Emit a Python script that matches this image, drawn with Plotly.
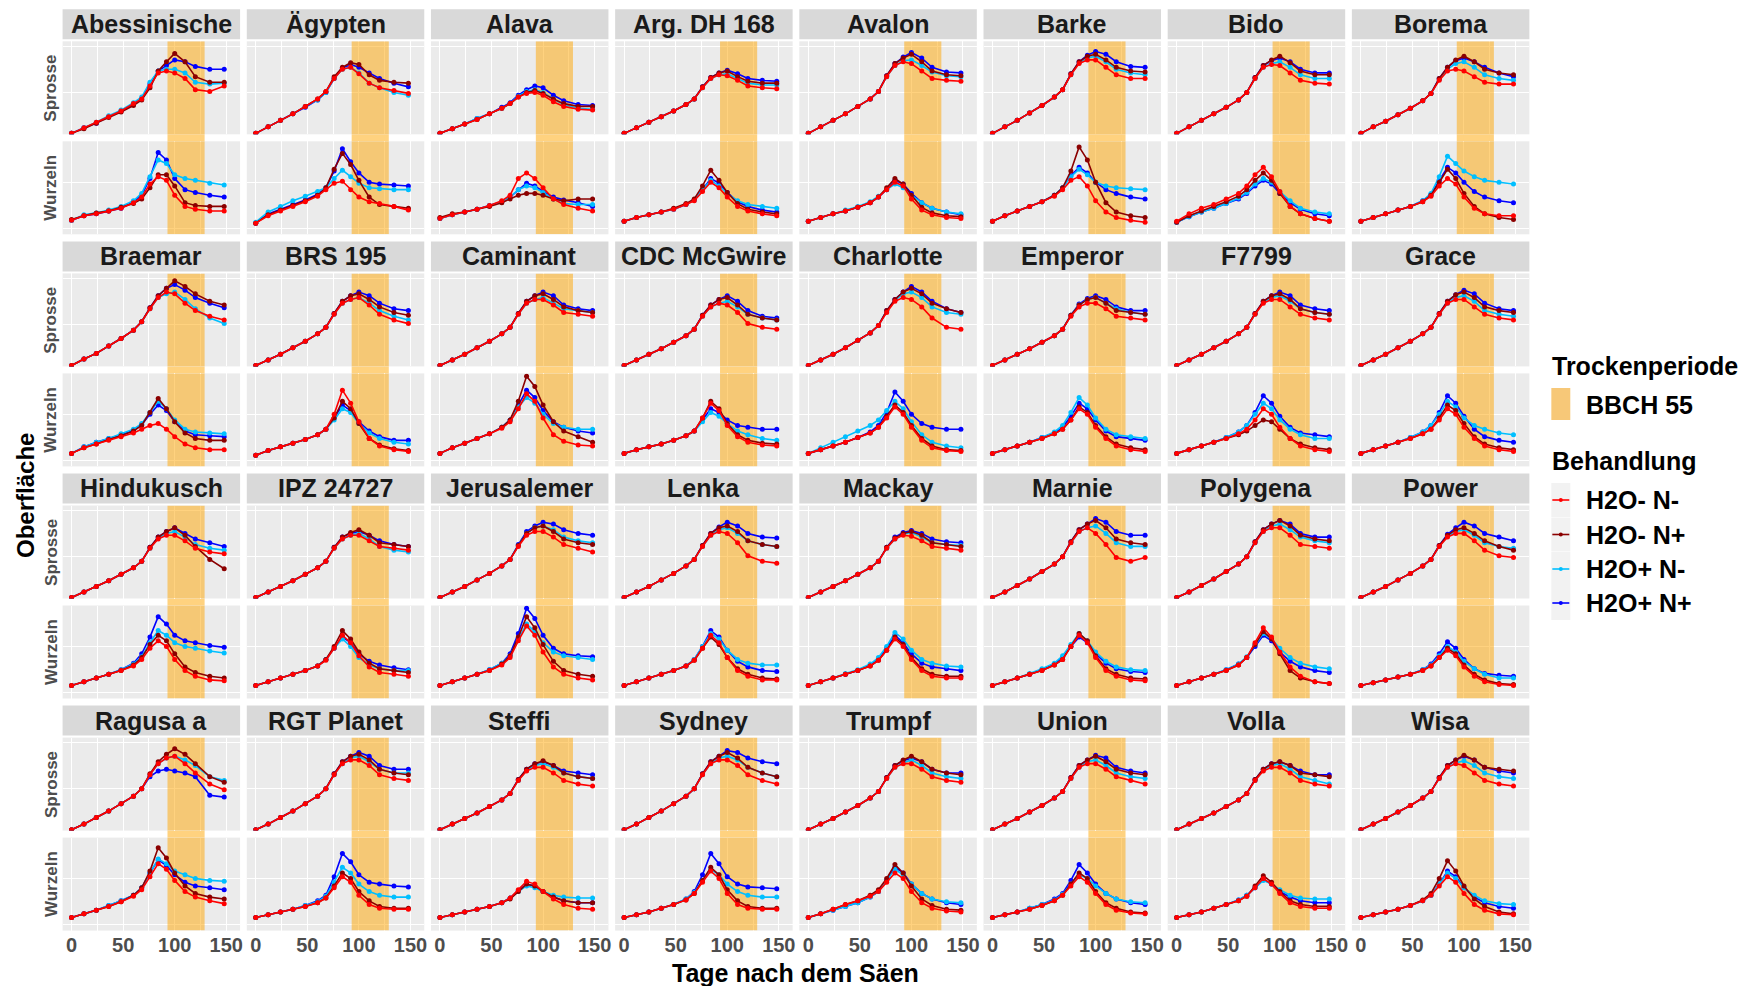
import plotly.graph_objects as go

# Measurement days (Tage nach dem Säen)
DAYS = [0, 12, 24, 36, 48, 60, 68, 76, 84, 92, 100, 110, 120, 134, 148]

TREATMENTS = ["H2O- N-", "H2O- N+", "H2O+ N-", "H2O+ N+"]
COLORS = ["#FF0000", "#8B0000", "#00BFFF", "#0000FF"]

# Drought period (BBCH 55), in days after sowing
BBCH55_START, BBCH55_END = 93, 129

GENOTYPES = [
    "Abessinische", "Ägypten", "Alava", "Arg. DH 168", "Avalon", "Barke", "Bido", "Borema",
    "Braemar", "BRS 195", "Caminant", "CDC McGwire", "Charlotte", "Emperor", "F7799", "Grace",
    "Hindukusch", "IPZ 24727", "Jerusalemer", "Lenka", "Mackay", "Marnie", "Polygena", "Power",
    "Ragusa a", "RGT Planet", "Steffi", "Sydney", "Trumpf", "Union", "Volla", "Wisa",
]

# Relative surface area, shoot (Sprosse); order of rows follows TREATMENTS
SPROSSE = {
    "Abessinische": [[1, 7, 13, 19, 25, 33, 38, 52, 66, 68, 66, 60, 48, 46, 52],
                     [1, 6, 12, 18, 24, 31, 37, 50, 68, 78, 87, 78, 62, 56, 56],
                     [1, 7, 13, 20, 26, 34, 40, 56, 68, 70, 70, 66, 56, 54, 55],
                     [1, 7, 12, 19, 25, 32, 38, 54, 68, 74, 80, 78, 73, 70, 70]],
    "Ägypten": [[1, 8, 15, 22, 30, 38, 46, 60, 70, 72, 65, 55, 50, 47, 44],
                [1, 8, 15, 22, 30, 38, 46, 62, 72, 77, 75, 64, 58, 56, 55],
                [1, 8, 15, 22, 30, 37, 45, 60, 70, 72, 66, 55, 50, 45, 42],
                [1, 8, 15, 22, 29, 37, 45, 60, 71, 75, 72, 66, 60, 55, 51]],
    "Alava": [[1, 6, 11, 16, 22, 28, 33, 40, 44, 45, 42, 35, 30, 27, 26],
              [1, 6, 11, 16, 22, 28, 33, 40, 45, 47, 44, 38, 33, 30, 30],
              [1, 6, 11, 17, 22, 28, 33, 41, 46, 48, 45, 38, 32, 28, 27],
              [1, 6, 11, 17, 22, 29, 34, 42, 48, 52, 50, 42, 36, 32, 31]],
    "Arg. DH 168": [[1, 7, 13, 19, 25, 32, 38, 50, 60, 64, 63, 58, 52, 50, 49],
                    [1, 7, 13, 19, 25, 32, 38, 51, 61, 66, 68, 62, 57, 55, 55],
                    [1, 7, 13, 19, 25, 32, 38, 50, 60, 64, 65, 60, 55, 53, 53],
                    [1, 7, 13, 19, 25, 32, 38, 51, 61, 66, 69, 65, 60, 58, 57]],
    "Avalon": [[1, 8, 15, 22, 30, 38, 46, 62, 74, 78, 76, 68, 60, 58, 57],
               [1, 8, 15, 22, 30, 38, 46, 63, 76, 82, 86, 78, 68, 64, 63],
               [1, 8, 15, 22, 30, 38, 46, 62, 74, 79, 80, 74, 67, 63, 62],
               [1, 8, 15, 22, 30, 38, 46, 63, 76, 83, 88, 82, 72, 67, 66]],
    "Barke": [[1, 8, 15, 23, 31, 40, 48, 64, 76, 80, 80, 72, 64, 60, 60],
              [1, 8, 15, 23, 31, 40, 48, 65, 78, 84, 86, 80, 72, 68, 67],
              [1, 8, 15, 23, 31, 40, 48, 64, 77, 82, 84, 78, 70, 66, 64],
              [1, 8, 15, 23, 31, 40, 48, 65, 78, 85, 89, 86, 78, 73, 72]],
    "Bido": [[1, 8, 15, 22, 29, 37, 45, 60, 72, 75, 74, 66, 58, 55, 54],
             [1, 8, 15, 22, 29, 37, 45, 61, 74, 80, 84, 77, 68, 64, 64],
             [1, 8, 15, 22, 29, 37, 45, 60, 72, 76, 78, 72, 64, 60, 60],
             [1, 8, 15, 22, 29, 37, 45, 61, 74, 79, 82, 78, 70, 66, 66]],
    "Borema": [[1, 8, 14, 21, 28, 36, 44, 58, 68, 70, 68, 62, 56, 54, 54],
               [1, 8, 14, 21, 28, 36, 44, 60, 72, 80, 84, 78, 70, 66, 64],
               [1, 8, 14, 21, 28, 36, 44, 59, 70, 76, 78, 72, 64, 60, 58],
               [1, 8, 14, 21, 28, 36, 44, 60, 72, 79, 82, 78, 72, 66, 62]],
    "Braemar": [[1, 8, 14, 22, 30, 39, 48, 62, 74, 80, 78, 68, 60, 54, 50],
                [1, 8, 14, 22, 30, 39, 48, 63, 76, 84, 92, 86, 78, 70, 66],
                [1, 8, 14, 22, 30, 39, 48, 62, 74, 78, 80, 72, 62, 52, 46],
                [1, 8, 14, 22, 30, 39, 48, 63, 76, 84, 88, 82, 74, 68, 63]],
    "BRS 195": [[1, 7, 13, 20, 27, 35, 42, 56, 68, 72, 74, 66, 56, 50, 46],
                [1, 7, 13, 20, 27, 35, 42, 57, 70, 76, 78, 72, 64, 58, 55],
                [1, 7, 13, 20, 27, 35, 42, 56, 68, 72, 74, 68, 60, 54, 50],
                [1, 7, 13, 20, 27, 35, 42, 57, 70, 76, 80, 76, 68, 62, 60]],
    "Caminant": [[1, 7, 13, 20, 27, 35, 42, 56, 68, 72, 72, 66, 58, 56, 54],
                 [1, 7, 13, 20, 27, 35, 42, 57, 70, 76, 78, 72, 64, 60, 58],
                 [1, 7, 13, 20, 27, 35, 42, 56, 68, 72, 74, 68, 62, 60, 58],
                 [1, 7, 13, 20, 27, 35, 42, 57, 70, 76, 80, 76, 66, 62, 60]],
    "CDC McGwire": [[1, 7, 13, 19, 26, 33, 40, 54, 64, 68, 66, 58, 46, 42, 40],
                    [1, 7, 13, 19, 26, 33, 40, 55, 66, 72, 74, 66, 56, 52, 50],
                    [1, 7, 13, 19, 26, 33, 40, 54, 64, 68, 70, 64, 56, 52, 50],
                    [1, 7, 13, 19, 26, 33, 40, 55, 66, 72, 76, 70, 60, 54, 52]],
    "Charlotte": [[1, 7, 13, 20, 28, 36, 44, 58, 70, 74, 72, 64, 52, 42, 40],
                  [1, 7, 13, 20, 28, 36, 44, 60, 72, 80, 84, 78, 68, 62, 58],
                  [1, 7, 13, 20, 28, 36, 44, 59, 71, 78, 80, 74, 64, 58, 56],
                  [1, 7, 13, 20, 28, 36, 44, 60, 72, 80, 86, 80, 70, 62, 58]],
    "Emperor": [[1, 7, 13, 19, 26, 33, 40, 54, 64, 68, 68, 62, 54, 52, 50],
                [1, 7, 13, 19, 26, 33, 40, 55, 66, 72, 74, 68, 60, 58, 56],
                [1, 7, 13, 19, 26, 33, 40, 55, 66, 72, 74, 68, 62, 58, 56],
                [1, 7, 13, 19, 26, 33, 40, 55, 67, 73, 76, 72, 64, 60, 60]],
    "F7799": [[1, 7, 13, 20, 27, 35, 42, 56, 68, 72, 72, 64, 56, 52, 50],
              [1, 7, 13, 20, 27, 35, 42, 57, 70, 76, 78, 72, 62, 58, 56],
              [1, 7, 13, 20, 27, 35, 42, 56, 69, 74, 76, 70, 62, 58, 56],
              [1, 7, 13, 20, 27, 35, 42, 57, 70, 76, 80, 76, 66, 62, 60]],
    "Grace": [[1, 7, 13, 20, 27, 35, 42, 56, 68, 72, 72, 64, 56, 52, 50],
              [1, 7, 13, 20, 27, 35, 42, 57, 70, 77, 80, 74, 64, 60, 58],
              [1, 7, 13, 20, 27, 35, 42, 56, 68, 74, 76, 70, 60, 56, 54],
              [1, 7, 13, 20, 27, 35, 42, 57, 70, 77, 82, 78, 68, 62, 60]],
    "Hindukusch": [[1, 7, 13, 19, 26, 33, 40, 54, 64, 68, 68, 62, 54, 50, 48],
                   [1, 7, 13, 19, 26, 33, 40, 55, 66, 72, 76, 68, 56, 42, 32],
                   [1, 7, 13, 19, 26, 33, 40, 54, 65, 70, 72, 66, 58, 54, 52],
                   [1, 7, 13, 19, 26, 33, 40, 55, 66, 72, 76, 70, 64, 60, 56]],
    "IPZ 24727": [[1, 7, 13, 19, 26, 33, 40, 54, 64, 68, 68, 62, 56, 54, 52],
                  [1, 7, 13, 19, 26, 33, 40, 55, 66, 71, 74, 68, 60, 58, 56],
                  [1, 7, 13, 19, 26, 33, 40, 54, 64, 68, 70, 64, 56, 52, 50],
                  [1, 7, 13, 19, 26, 33, 40, 55, 66, 70, 72, 68, 62, 58, 56]],
    "Jerusalemer": [[1, 7, 13, 20, 27, 35, 42, 56, 68, 72, 72, 66, 58, 54, 50],
                    [1, 7, 13, 20, 27, 35, 42, 57, 70, 76, 78, 72, 64, 60, 58],
                    [1, 7, 13, 20, 27, 35, 42, 57, 70, 76, 78, 74, 66, 62, 60],
                    [1, 7, 13, 20, 27, 35, 42, 58, 72, 78, 82, 80, 74, 70, 68]],
    "Lenka": [[1, 7, 13, 20, 27, 35, 42, 56, 68, 72, 70, 60, 46, 40, 38],
              [1, 7, 13, 20, 27, 35, 42, 57, 70, 76, 78, 72, 62, 58, 56],
              [1, 7, 13, 20, 27, 35, 42, 56, 68, 74, 76, 70, 62, 58, 56],
              [1, 7, 13, 20, 27, 35, 42, 57, 70, 77, 82, 78, 70, 66, 65]],
    "Mackay": [[1, 7, 13, 19, 26, 33, 40, 54, 64, 68, 67, 62, 56, 54, 52],
               [1, 7, 13, 19, 26, 33, 40, 55, 65, 70, 72, 68, 60, 58, 56],
               [1, 7, 13, 19, 26, 33, 40, 54, 64, 69, 71, 66, 60, 58, 57],
               [1, 7, 13, 19, 26, 33, 40, 55, 66, 71, 73, 70, 64, 61, 60]],
    "Marnie": [[1, 7, 14, 21, 29, 37, 45, 60, 72, 76, 70, 58, 44, 40, 44],
               [1, 7, 14, 21, 29, 37, 45, 61, 74, 80, 84, 76, 64, 60, 58],
               [1, 7, 14, 21, 29, 37, 45, 60, 72, 76, 78, 70, 60, 56, 56],
               [1, 7, 14, 21, 29, 37, 45, 61, 74, 80, 86, 82, 72, 68, 68]],
    "Polygena": [[1, 7, 14, 21, 29, 37, 45, 60, 72, 76, 76, 68, 58, 56, 54],
                 [1, 7, 14, 21, 29, 37, 45, 61, 74, 80, 84, 78, 68, 64, 62],
                 [1, 7, 14, 21, 29, 37, 45, 60, 72, 78, 80, 74, 66, 62, 60],
                 [1, 7, 14, 21, 29, 37, 45, 61, 74, 80, 84, 80, 70, 66, 66]],
    "Power": [[1, 7, 13, 20, 27, 35, 42, 56, 66, 70, 70, 62, 52, 46, 44],
              [1, 7, 13, 20, 27, 35, 42, 57, 68, 74, 76, 70, 62, 56, 52],
              [1, 7, 13, 20, 27, 35, 42, 56, 67, 72, 74, 68, 60, 56, 54],
              [1, 7, 13, 20, 27, 35, 42, 57, 69, 76, 82, 78, 70, 66, 62]],
    "Ragusa a": [[1, 7, 14, 21, 29, 37, 45, 60, 72, 78, 80, 72, 62, 50, 44],
                 [1, 7, 14, 21, 29, 37, 45, 61, 74, 82, 88, 82, 72, 58, 52],
                 [1, 7, 14, 21, 29, 37, 45, 60, 72, 78, 80, 76, 70, 58, 54],
                 [1, 7, 14, 21, 29, 37, 45, 58, 64, 66, 64, 62, 58, 38, 36]],
    "RGT Planet": [[1, 7, 14, 21, 29, 37, 45, 60, 72, 76, 76, 70, 60, 56, 54],
                   [1, 7, 14, 21, 29, 37, 45, 61, 74, 80, 82, 76, 66, 62, 60],
                   [1, 7, 14, 21, 29, 37, 45, 60, 72, 78, 80, 74, 66, 62, 62],
                   [1, 7, 14, 21, 29, 37, 45, 61, 74, 80, 84, 80, 70, 66, 66]],
    "Steffi": [[1, 7, 13, 19, 26, 33, 40, 54, 64, 68, 68, 62, 54, 50, 48],
               [1, 7, 13, 19, 26, 33, 40, 55, 66, 72, 75, 70, 62, 58, 56],
               [1, 7, 13, 19, 26, 33, 40, 54, 65, 70, 72, 68, 62, 58, 56],
               [1, 7, 13, 19, 26, 33, 40, 55, 66, 72, 74, 70, 64, 62, 60]],
    "Sydney": [[1, 7, 14, 21, 29, 37, 45, 60, 72, 76, 76, 70, 60, 54, 50],
               [1, 7, 14, 21, 29, 37, 45, 61, 74, 80, 84, 78, 68, 62, 58],
               [1, 7, 14, 21, 29, 37, 45, 60, 72, 78, 80, 76, 68, 62, 58],
               [1, 7, 14, 21, 29, 37, 45, 61, 74, 80, 86, 84, 78, 74, 72]],
    "Trumpf": [[1, 7, 13, 20, 27, 35, 42, 56, 68, 72, 72, 66, 58, 54, 52],
               [1, 7, 13, 20, 27, 35, 42, 57, 70, 76, 80, 74, 66, 62, 60],
               [1, 7, 13, 20, 27, 35, 42, 56, 68, 73, 76, 70, 62, 58, 56],
               [1, 7, 13, 20, 27, 35, 42, 57, 70, 75, 78, 74, 66, 62, 62]],
    "Union": [[1, 7, 13, 20, 27, 35, 42, 56, 68, 72, 72, 66, 58, 54, 50],
              [1, 7, 13, 20, 27, 35, 42, 57, 70, 76, 80, 74, 66, 62, 60],
              [1, 7, 13, 20, 27, 35, 42, 56, 68, 74, 76, 70, 62, 58, 56],
              [1, 7, 13, 20, 27, 35, 42, 57, 70, 76, 81, 78, 68, 64, 62]],
    "Volla": [[1, 7, 13, 19, 26, 33, 40, 54, 64, 68, 68, 62, 54, 50, 48],
              [1, 7, 13, 19, 26, 33, 40, 55, 66, 72, 74, 70, 62, 60, 58],
              [1, 7, 13, 19, 26, 33, 40, 54, 65, 70, 72, 66, 58, 54, 50],
              [1, 7, 13, 19, 26, 33, 40, 55, 66, 72, 74, 70, 64, 60, 60]],
    "Wisa": [[1, 7, 13, 20, 27, 35, 42, 56, 68, 72, 70, 62, 54, 50, 48],
             [1, 7, 13, 20, 27, 35, 42, 57, 70, 76, 81, 76, 68, 66, 64],
             [1, 7, 13, 20, 27, 35, 42, 56, 68, 73, 75, 70, 62, 58, 56],
             [1, 7, 13, 20, 27, 35, 42, 57, 70, 76, 80, 76, 68, 64, 62]],
}

# Relative surface area, roots (Wurzeln); order of rows follows TREATMENTS
WURZELN = {
    "Abessinische": [[15, 20, 22, 25, 28, 34, 40, 54, 62, 58, 42, 30, 27, 25, 25],
                     [16, 20, 23, 25, 29, 33, 38, 50, 64, 64, 52, 34, 31, 30, 30],
                     [15, 21, 23, 26, 30, 36, 44, 62, 80, 76, 64, 60, 58, 55, 53],
                     [15, 20, 22, 25, 28, 35, 42, 60, 88, 80, 60, 48, 45, 42, 40]],
    "Ägypten": [[12, 20, 25, 30, 35, 41, 48, 55, 57, 48, 40, 35, 33, 30, 26],
                [12, 21, 26, 31, 36, 42, 50, 70, 87, 75, 58, 40, 32, 30, 28],
                [13, 24, 30, 36, 41, 46, 50, 60, 69, 62, 55, 50, 49, 48, 48],
                [12, 22, 27, 32, 37, 43, 50, 68, 92, 78, 66, 56, 54, 53, 52]],
    "Alava": [[17, 21, 24, 27, 31, 36, 42, 60, 66, 60, 50, 38, 32, 28, 25],
              [18, 22, 24, 27, 30, 34, 38, 42, 44, 44, 42, 38, 36, 38, 38],
              [17, 21, 24, 27, 31, 35, 40, 48, 52, 50, 45, 38, 33, 32, 32],
              [17, 21, 24, 27, 31, 35, 40, 48, 55, 52, 46, 40, 37, 34, 30]],
    "Arg. DH 168": [[14, 18, 21, 24, 27, 32, 36, 46, 56, 50, 40, 30, 25, 22, 20],
                    [14, 18, 21, 24, 28, 33, 38, 52, 69, 58, 45, 33, 27, 24, 22],
                    [14, 18, 21, 24, 27, 32, 37, 48, 58, 52, 44, 36, 32, 30, 28],
                    [14, 18, 21, 24, 27, 32, 37, 48, 60, 55, 45, 35, 30, 26, 24]],
    "Avalon": [[14, 18, 22, 25, 29, 34, 40, 48, 56, 52, 38, 26, 21, 18, 17],
               [14, 18, 22, 25, 29, 34, 40, 50, 60, 54, 42, 29, 23, 20, 19],
               [14, 18, 22, 26, 30, 35, 41, 48, 54, 50, 42, 34, 28, 24, 22],
               [14, 18, 22, 25, 29, 34, 40, 48, 58, 54, 44, 34, 28, 24, 21]],
    "Barke": [[14, 20, 25, 30, 35, 41, 48, 58, 62, 52, 36, 24, 18, 15, 13],
              [14, 20, 25, 30, 35, 42, 50, 68, 94, 80, 56, 34, 24, 20, 18],
              [14, 20, 25, 30, 35, 42, 50, 62, 70, 64, 56, 52, 50, 49, 48],
              [14, 20, 25, 30, 35, 42, 50, 63, 72, 66, 56, 48, 44, 40, 38]],
    "Bido": [[14, 22, 28, 32, 38, 44, 52, 64, 72, 62, 46, 30, 22, 17, 14],
             [13, 20, 25, 30, 35, 41, 48, 58, 66, 58, 44, 30, 22, 17, 14],
             [13, 19, 24, 28, 33, 39, 45, 54, 60, 56, 46, 36, 28, 24, 22],
             [13, 19, 24, 28, 33, 38, 44, 52, 58, 54, 44, 34, 27, 22, 20]],
    "Borema": [[14, 18, 22, 26, 30, 35, 41, 52, 60, 54, 40, 28, 22, 20, 20],
               [14, 18, 22, 26, 30, 35, 42, 56, 70, 60, 44, 30, 22, 18, 16],
               [14, 18, 22, 26, 30, 36, 44, 62, 84, 76, 68, 62, 58, 56, 54],
               [14, 18, 22, 26, 30, 36, 43, 58, 72, 66, 56, 46, 40, 36, 34]],
    "Braemar": [[14, 20, 24, 28, 32, 36, 40, 44, 46, 40, 32, 24, 20, 18, 18],
                [14, 20, 24, 29, 33, 38, 44, 58, 73, 62, 48, 36, 30, 28, 28],
                [14, 21, 26, 30, 35, 40, 46, 58, 70, 62, 50, 40, 37, 36, 35],
                [14, 21, 26, 30, 34, 39, 45, 56, 66, 60, 48, 38, 34, 33, 32]],
    "BRS 195": [[12, 17, 21, 25, 29, 34, 40, 56, 82, 68, 48, 30, 22, 18, 16],
                [12, 17, 21, 25, 29, 34, 40, 52, 70, 62, 46, 30, 23, 19, 17],
                [12, 17, 21, 25, 29, 34, 40, 50, 62, 58, 46, 36, 30, 26, 24],
                [12, 17, 21, 25, 29, 34, 40, 52, 66, 60, 48, 38, 32, 28, 28]],
    "Caminant": [[14, 20, 25, 30, 35, 41, 48, 62, 78, 70, 52, 34, 27, 23, 22],
                 [14, 20, 25, 30, 35, 42, 50, 70, 97, 86, 66, 48, 38, 32, 26],
                 [14, 20, 25, 30, 35, 42, 50, 64, 74, 68, 56, 46, 42, 40, 40],
                 [14, 20, 25, 30, 35, 42, 50, 66, 82, 74, 60, 48, 42, 38, 36]],
    "CDC McGwire": [[14, 18, 21, 24, 28, 33, 38, 52, 68, 60, 44, 32, 26, 23, 22],
                    [14, 18, 21, 24, 28, 33, 38, 52, 70, 62, 46, 34, 28, 25, 24],
                    [14, 18, 21, 24, 28, 33, 38, 48, 58, 54, 46, 38, 34, 30, 28],
                    [14, 18, 21, 24, 28, 33, 38, 50, 62, 58, 50, 44, 42, 40, 40]],
    "Charlotte": [[14, 18, 22, 26, 31, 36, 42, 52, 64, 56, 42, 28, 20, 17, 16],
                  [14, 18, 22, 26, 31, 36, 42, 54, 66, 58, 44, 30, 22, 18, 17],
                  [14, 20, 26, 32, 38, 44, 50, 60, 70, 62, 48, 34, 26, 22, 20],
                  [14, 18, 22, 26, 31, 37, 44, 58, 80, 70, 56, 46, 42, 40, 40]],
    "Emperor": [[14, 18, 22, 26, 30, 35, 40, 50, 62, 56, 42, 30, 22, 18, 16],
                [14, 18, 22, 26, 30, 35, 40, 50, 64, 58, 44, 32, 24, 20, 18],
                [14, 18, 22, 26, 31, 37, 44, 58, 74, 66, 52, 40, 34, 32, 30],
                [14, 18, 22, 26, 31, 36, 42, 54, 68, 62, 50, 38, 32, 30, 28]],
    "F7799": [[14, 18, 22, 26, 30, 35, 40, 50, 62, 56, 42, 30, 22, 18, 16],
              [14, 18, 22, 26, 30, 34, 38, 44, 50, 48, 40, 30, 24, 20, 18],
              [14, 18, 22, 26, 31, 37, 44, 56, 68, 62, 50, 40, 34, 30, 30],
              [14, 18, 22, 26, 31, 37, 44, 58, 76, 68, 54, 42, 36, 34, 32]],
    "Grace": [[14, 18, 22, 26, 30, 35, 40, 50, 62, 56, 42, 30, 22, 18, 16],
              [14, 18, 22, 26, 30, 35, 40, 52, 66, 60, 46, 32, 24, 20, 18],
              [14, 18, 22, 26, 31, 37, 44, 56, 70, 64, 52, 44, 40, 36, 34],
              [14, 18, 22, 26, 31, 37, 44, 58, 76, 68, 54, 40, 32, 28, 26]],
    "Hindukusch": [[14, 18, 22, 26, 30, 35, 42, 54, 62, 56, 42, 30, 24, 20, 19],
                   [14, 18, 22, 26, 30, 36, 44, 58, 68, 62, 48, 34, 28, 24, 22],
                   [14, 18, 22, 26, 31, 37, 45, 60, 73, 68, 60, 56, 54, 51, 49],
                   [14, 18, 22, 26, 31, 38, 48, 66, 88, 80, 68, 62, 60, 57, 55]],
    "IPZ 24727": [[14, 18, 22, 26, 30, 35, 41, 54, 68, 60, 46, 34, 28, 26, 24],
                  [14, 18, 22, 26, 30, 35, 42, 56, 73, 64, 50, 38, 32, 30, 28],
                  [14, 18, 22, 26, 30, 35, 42, 54, 64, 56, 44, 36, 32, 30, 30],
                  [14, 18, 22, 26, 30, 35, 42, 54, 66, 60, 48, 40, 36, 33, 31]],
    "Jerusalemer": [[14, 18, 22, 26, 30, 36, 44, 62, 78, 68, 50, 34, 26, 22, 20],
                    [14, 18, 22, 26, 30, 37, 46, 66, 88, 76, 58, 40, 30, 26, 24],
                    [14, 18, 22, 26, 31, 38, 46, 64, 80, 72, 60, 50, 46, 44, 42],
                    [14, 18, 22, 26, 31, 38, 48, 70, 97, 86, 68, 54, 48, 46, 45]],
    "Lenka": [[14, 18, 22, 26, 30, 35, 41, 54, 68, 60, 44, 30, 24, 20, 20],
              [14, 18, 22, 26, 30, 35, 41, 54, 66, 58, 44, 32, 26, 22, 21],
              [14, 18, 22, 26, 30, 35, 42, 56, 70, 64, 52, 42, 38, 36, 36],
              [14, 18, 22, 26, 30, 35, 42, 56, 73, 66, 52, 40, 34, 30, 29]],
    "Mackay": [[14, 18, 22, 26, 30, 35, 41, 52, 64, 56, 42, 30, 24, 22, 22],
               [14, 18, 22, 26, 30, 35, 41, 52, 66, 58, 44, 32, 26, 24, 24],
               [14, 18, 22, 27, 31, 37, 44, 56, 71, 64, 52, 42, 38, 35, 34],
               [14, 18, 22, 26, 30, 36, 42, 54, 68, 60, 48, 38, 34, 32, 30]],
    "Marnie": [[14, 18, 22, 26, 30, 36, 42, 56, 68, 60, 44, 30, 24, 20, 19],
               [14, 18, 22, 26, 30, 36, 42, 56, 70, 62, 46, 32, 26, 22, 21],
               [14, 18, 22, 27, 32, 38, 46, 58, 70, 62, 50, 40, 34, 31, 30],
               [14, 18, 22, 26, 31, 37, 44, 56, 66, 60, 48, 38, 32, 29, 28]],
    "Polygena": [[14, 18, 22, 26, 30, 36, 44, 60, 76, 66, 50, 34, 24, 18, 16],
                 [14, 18, 22, 26, 30, 36, 44, 58, 72, 64, 48, 30, 22, 18, 16],
                 [14, 18, 22, 26, 31, 37, 45, 58, 70, 64, 54, 44, 38, 34, 32],
                 [14, 18, 22, 26, 31, 37, 44, 56, 68, 62, 50, 40, 34, 30, 28]],
    "Power": [[14, 17, 20, 23, 26, 30, 35, 44, 52, 46, 34, 24, 18, 15, 14],
              [14, 17, 20, 23, 26, 30, 35, 44, 54, 48, 36, 26, 20, 16, 15],
              [14, 17, 20, 23, 26, 31, 36, 46, 56, 50, 40, 32, 26, 22, 22],
              [14, 17, 20, 23, 26, 31, 37, 48, 61, 54, 42, 32, 27, 25, 24]],
    "Ragusa a": [[14, 18, 22, 26, 31, 37, 44, 58, 72, 66, 54, 42, 36, 32, 29],
                 [14, 18, 22, 26, 31, 38, 46, 64, 89, 78, 62, 48, 40, 36, 34],
                 [14, 18, 22, 27, 32, 38, 46, 62, 77, 72, 64, 60, 56, 54, 53],
                 [14, 18, 22, 27, 32, 38, 46, 62, 76, 70, 60, 52, 48, 46, 44]],
    "RGT Planet": [[14, 17, 20, 23, 26, 30, 35, 46, 58, 52, 38, 28, 24, 23, 23],
                   [14, 17, 20, 23, 26, 30, 35, 48, 62, 56, 42, 32, 26, 24, 24],
                   [14, 17, 20, 23, 27, 31, 37, 52, 68, 62, 50, 42, 38, 36, 36],
                   [14, 17, 20, 23, 27, 32, 38, 58, 83, 74, 60, 52, 50, 48, 47]],
    "Steffi": [[14, 17, 20, 23, 26, 30, 35, 44, 53, 50, 42, 34, 28, 24, 23],
               [14, 17, 20, 23, 26, 30, 34, 42, 50, 48, 42, 36, 32, 30, 30],
               [14, 17, 20, 23, 26, 30, 35, 42, 48, 46, 42, 38, 36, 35, 35],
               [14, 17, 20, 23, 26, 30, 35, 43, 50, 48, 42, 36, 32, 30, 30]],
    "Sydney": [[14, 17, 20, 24, 28, 33, 40, 52, 64, 56, 40, 28, 24, 23, 23],
               [14, 17, 20, 24, 28, 33, 40, 54, 68, 60, 44, 32, 26, 24, 24],
               [14, 17, 20, 24, 28, 34, 41, 54, 66, 60, 50, 42, 38, 36, 36],
               [14, 17, 20, 24, 28, 34, 42, 60, 83, 72, 58, 50, 47, 46, 45]],
    "Trumpf": [[14, 18, 23, 28, 32, 37, 42, 52, 62, 56, 42, 30, 24, 21, 20],
               [14, 18, 23, 28, 32, 38, 44, 56, 71, 62, 48, 34, 27, 23, 22],
               [14, 18, 22, 26, 30, 36, 42, 54, 66, 60, 50, 40, 34, 31, 30],
               [14, 18, 22, 26, 30, 36, 42, 54, 68, 62, 50, 40, 34, 30, 28]],
    "Union": [[14, 17, 20, 23, 27, 32, 38, 48, 58, 52, 40, 28, 22, 19, 18],
              [14, 17, 20, 23, 27, 32, 38, 50, 62, 56, 42, 30, 24, 20, 19],
              [14, 17, 20, 24, 28, 33, 39, 50, 60, 56, 48, 40, 34, 31, 30],
              [14, 17, 20, 24, 28, 34, 40, 54, 71, 62, 50, 40, 34, 30, 28]],
    "Volla": [[14, 17, 20, 24, 28, 32, 37, 46, 56, 50, 40, 30, 26, 24, 24],
              [14, 17, 20, 24, 28, 32, 37, 48, 59, 52, 42, 32, 28, 26, 26],
              [14, 17, 20, 24, 28, 33, 38, 46, 54, 50, 44, 38, 35, 34, 34],
              [14, 17, 20, 24, 28, 33, 38, 46, 55, 50, 42, 36, 32, 30, 30]],
    "Wisa": [[14, 17, 20, 23, 27, 32, 38, 48, 58, 52, 40, 28, 22, 18, 17],
             [14, 17, 20, 23, 27, 33, 40, 56, 75, 64, 48, 34, 26, 20, 18],
             [14, 17, 20, 23, 27, 32, 38, 50, 62, 56, 46, 38, 32, 29, 28],
             [14, 17, 20, 23, 27, 32, 38, 50, 64, 58, 46, 36, 30, 26, 24]],
}

# ---------------------------------------------------------------- layout
FIG_W, FIG_H = 1749, 986
COL0, COL_STEP, COL_W = 62.7, 184.5, 177.8
ROW0, ROW_STEP = 9.3, 232.1
STRIP_H, PANEL_H, PANEL_GAP, STRIP_TO_PANEL = 30, 93, 7, 32
X_RANGE = [-8.7, 163.4]
Y_RANGE = [0, 100]
ORGANS = [("Sprosse", SPROSSE, [45, 94.6]), ("Wurzeln", WURZELN, [6.5, 56])]
DRAW_ORDER = [3, 2, 1, 0]  # blue first, red drawn on top

FONT = "Liberation Sans, Arial, sans-serif"
BAND_FILL = "rgba(255,165,0,0.5)"


def fx(p):
    return p / FIG_W


def fy(p):
    return 1 - p / FIG_H


fig = go.Figure()
layout = {}
shapes = []
annotations = []

k = 0
for gi, name in enumerate(GENOTYPES):
    r, c = divmod(gi, 8)
    left = COL0 + c * COL_STEP
    right = left + COL_W
    strip_top = ROW0 + r * ROW_STEP
    s_top = strip_top + STRIP_TO_PANEL
    s_bot = s_top + PANEL_H
    w_top = s_bot + PANEL_GAP
    w_bot = w_top + PANEL_H
    panel_bounds = [(s_top, s_bot), (w_top, w_bot)]

    # facet strip
    shapes.append(dict(type="rect", xref="paper", yref="paper",
                       x0=fx(left), x1=fx(right), y0=fy(strip_top + STRIP_H), y1=fy(strip_top),
                       fillcolor="#D9D9D9", line=dict(width=0), layer="below"))
    annotations.append(dict(text=name, x=fx((left + right) / 2), y=fy(strip_top + STRIP_H / 2),
                            xref="paper", yref="paper", xanchor="center", yanchor="middle",
                            showarrow=False,
                            font=dict(family=FONT, size=25, color="#1A1A1A", weight="bold")))

    first_sfx = None
    for oi, (organ, table, grid) in enumerate(ORGANS):
        k += 1
        top, bot = panel_bounds[oi]
        sfx = "" if k == 1 else str(k)
        if first_sfx is None:
            first_sfx = sfx
        bottom_row = (r == 3 and oi == 1)
        layout["xaxis" + sfx] = dict(
            domain=[fx(left), fx(right)], range=X_RANGE, anchor="y" + sfx,
            tickvals=[0, 50, 100, 150], ticktext=["0", "50", "100", "150"],
            showticklabels=bottom_row, ticks="",
            tickfont=dict(family=FONT, size=20, color="#4D4D4D", weight="bold"),
            showgrid=True, gridcolor="white", gridwidth=1.3,
            minor=dict(tickvals=[25, 75, 125], showgrid=True, gridcolor="white", gridwidth=0.8),
            zeroline=False, showline=False, fixedrange=True,
        )
        layout["yaxis" + sfx] = dict(
            domain=[fy(bot), fy(top)], range=Y_RANGE, anchor="x" + sfx,
            tickvals=grid, showticklabels=False, ticks="",
            showgrid=True, gridcolor="white", gridwidth=1.3,
            zeroline=False, showline=False, fixedrange=True,
        )
        # drought period: filled area over the grid, under the treatment lines
        fig.add_trace(go.Scatter(
            x=[BBCH55_START, BBCH55_END, BBCH55_END, BBCH55_START],
            y=[Y_RANGE[0], Y_RANGE[0], Y_RANGE[1], Y_RANGE[1]],
            fill="toself", fillcolor=BAND_FILL, mode="lines", line=dict(width=0),
            name="BBCH 55", showlegend=False, hoverinfo="skip",
            xaxis="x" + sfx, yaxis="y" + sfx,
        ))
        for ti in DRAW_ORDER:
            fig.add_trace(go.Scatter(
                x=DAYS, y=table[name][ti], mode="lines+markers",
                line=dict(color=COLORS[ti], width=1.6),
                marker=dict(color=COLORS[ti], size=5),
                name=TREATMENTS[ti], showlegend=False, hoverinfo="skip",
                xaxis="x" + sfx, yaxis="y" + sfx,
            ))
        if c == 0:
            annotations.append(dict(text=organ, x=fx(51), y=fy((top + bot) / 2),
                                    xref="paper", yref="paper", xanchor="center", yanchor="middle",
                                    textangle=-90, showarrow=False,
                                    font=dict(family=FONT, size=17, color="#4D4D4D", weight="bold")))

    # drought period continues across the gap between the two organ panels
    shapes.append(dict(type="rect", xref="x" + first_sfx, yref="paper",
                       x0=BBCH55_START, x1=BBCH55_END, y0=fy(w_top), y1=fy(s_bot),
                       fillcolor=BAND_FILL, line=dict(width=0), layer="below"))

# axis titles
annotations.append(dict(text="Tage nach dem Säen", x=fx(797), y=fy(973), xref="paper", yref="paper",
                        xanchor="center", yanchor="middle", showarrow=False,
                        font=dict(family=FONT, size=25, color="black", weight="bold")))
annotations.append(dict(text="Oberfläche", x=fx(26), y=fy(495), xref="paper", yref="paper",
                        xanchor="center", yanchor="middle", textangle=-90, showarrow=False,
                        font=dict(family=FONT, size=24, color="black", weight="bold")))

# legend
LEG_X0, LEG_X1, LABEL_X = 1554, 1573, 1587
LEG_FONT = dict(family=FONT, size=25, color="black", weight="bold")
annotations.append(dict(text="Trockenperiode", x=fx(1553), y=fy(366), xref="paper", yref="paper",
                        xanchor="left", yanchor="middle", showarrow=False, font=LEG_FONT))
shapes.append(dict(type="rect", xref="paper", yref="paper", x0=fx(LEG_X0), x1=fx(LEG_X1),
                   y0=fy(420), y1=fy(388), fillcolor="#F7C878", line=dict(width=0)))
annotations.append(dict(text="BBCH 55", x=fx(LABEL_X), y=fy(405), xref="paper", yref="paper",
                        xanchor="left", yanchor="middle", showarrow=False, font=LEG_FONT))
annotations.append(dict(text="Behandlung", x=fx(1553), y=fy(461), xref="paper", yref="paper",
                        xanchor="left", yanchor="middle", showarrow=False, font=LEG_FONT))
key_tops = [483, 517.5, 552, 586]
for ti, tname in enumerate(TREATMENTS):
    y0 = key_tops[ti]
    y1 = y0 + 34
    yc = (y0 + y1) / 2
    shapes.append(dict(type="rect", xref="paper", yref="paper", x0=fx(LEG_X0), x1=fx(LEG_X1),
                       y0=fy(y1), y1=fy(y0), fillcolor="#F2F2F2", line=dict(width=0)))
    shapes.append(dict(type="line", xref="paper", yref="paper", x0=fx(LEG_X0 + 1), x1=fx(LEG_X1 - 1),
                       y0=fy(yc), y1=fy(yc), line=dict(color=COLORS[ti], width=1.6)))
    shapes.append(dict(type="circle", xref="paper", yref="paper",
                       x0=fx((LEG_X0 + LEG_X1) / 2 - 2), x1=fx((LEG_X0 + LEG_X1) / 2 + 2),
                       y0=fy(yc + 2), y1=fy(yc - 2), fillcolor=COLORS[ti], line=dict(width=0)))
    annotations.append(dict(text=tname, x=fx(LABEL_X), y=fy(yc), xref="paper", yref="paper",
                            xanchor="left", yanchor="middle", showarrow=False, font=LEG_FONT))

fig.update_layout(
    width=FIG_W, height=FIG_H, autosize=False,
    margin=dict(l=0, r=0, t=0, b=0),
    paper_bgcolor="white", plot_bgcolor="#EBEBEB",
    showlegend=False, shapes=shapes, annotations=annotations,
    font=dict(family=FONT),
    **layout,
)

fig.write_html("out.html", config={"displayModeBar": False})
